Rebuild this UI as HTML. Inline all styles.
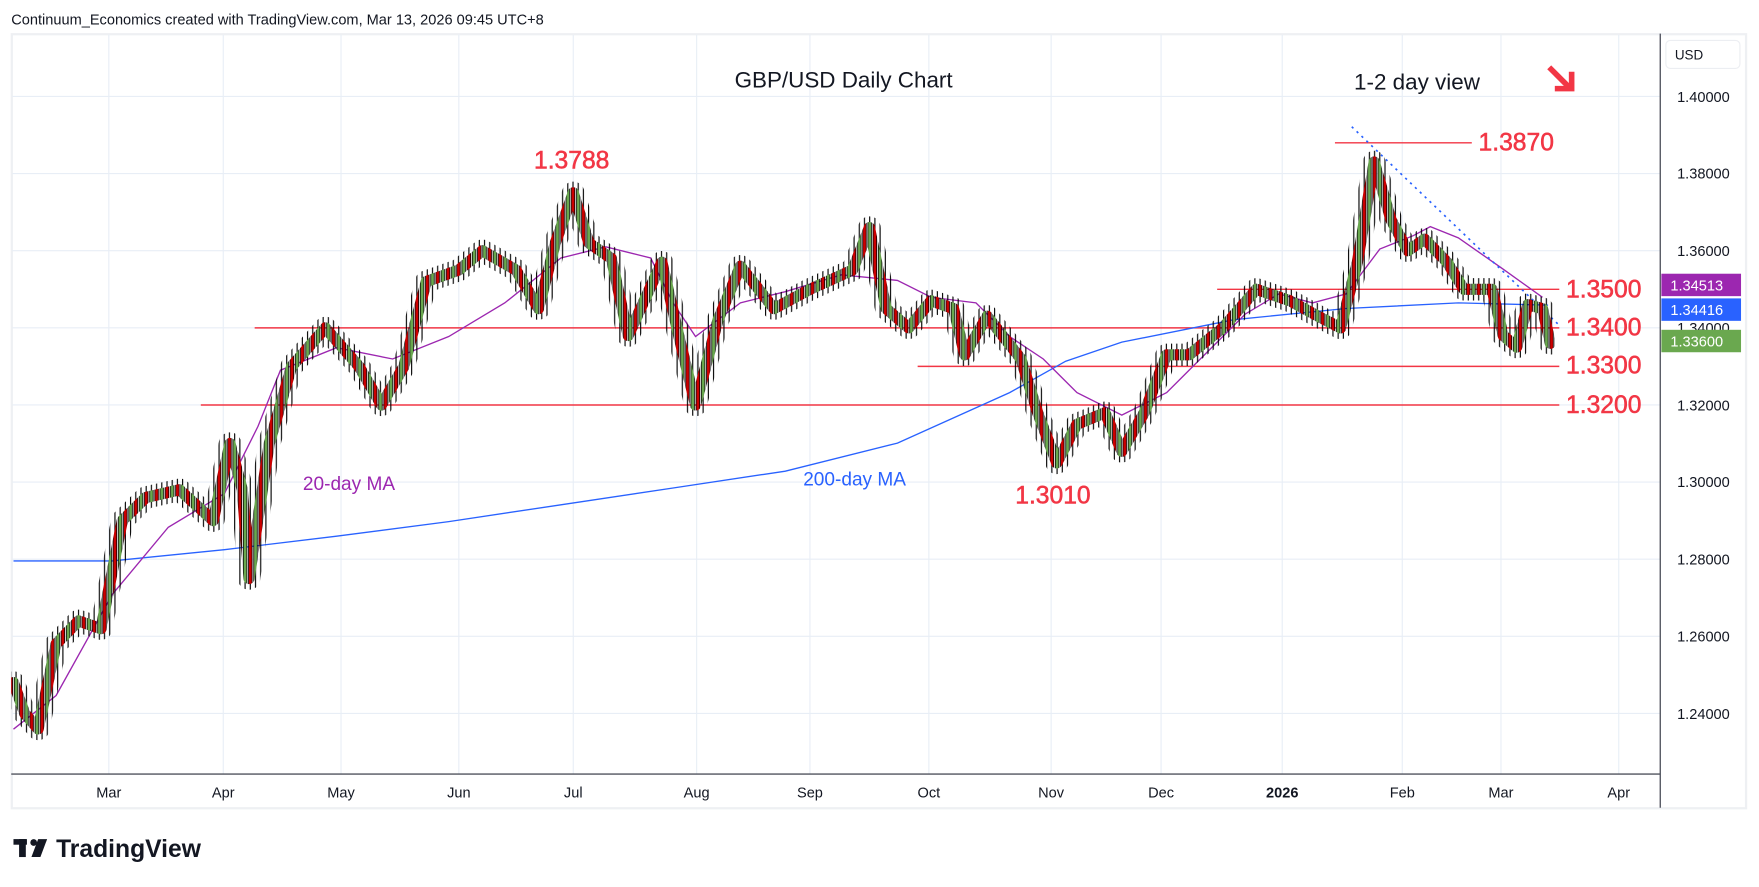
<!DOCTYPE html>
<html><head><meta charset="utf-8"><style>
html,body{margin:0;padding:0;background:#fff;overflow:hidden}
svg{display:block;font-family:"Liberation Sans",sans-serif}
</style></head><body>
<svg width="1759" height="887" viewBox="0 0 1568 790.7" xmlns="http://www.w3.org/2000/svg">
<defs>
<pattern id="pw" patternUnits="userSpaceOnUse" x="12" y="0" width="9.28" height="800">
<rect x="1.8" y="0" width="1" height="800" fill="#000"/><rect x="6.44" y="0" width="1" height="800" fill="#000"/>
</pattern>
<pattern id="pb" patternUnits="userSpaceOnUse" x="12" y="0" width="9.28" height="800">
<rect x="0.7" y="-5" width="3.2" height="810" fill="#6aa84f" stroke="#000" stroke-width="0.7"/>
<rect x="5.34" y="-5" width="3.2" height="810" fill="#cc0000" stroke="#000" stroke-width="0.7"/>
</pattern>
<polyline id="pp" fill="none" stroke-linejoin="round" stroke-linecap="round" points="12,608.5 22,636 34,649.8 50,574.1 70,553.5 90,560.4 109,464.1 130,443.5 160,436.6 190,464.1 205,395.4 216,436.6 222,515.7 240,395.4 260,326.6 290,292.3 320,326.6 340,361 360,326.6 380,251 409,240.7 430,223.5 460,240.7 480,275.1 495,216.6 511,171.9 525,216.6 545,230.4 560,299.1 590,233.8 605,299.1 620,361 640,285.4 660,237.3 690,275.1 722,257.9 760,240.7 775,202.9 790,275.1 810,292.3 830,268.2 850,275.1 860,316.3 880,281.9 910,319.8 925,367.9 942,412.6 960,378.2 985,367.9 1000,402.3 1020,367.9 1040,316.3 1060,316.3 1090,292.3 1120,257.9 1150,268.2 1175,281.9 1195,292.3 1210,233.8 1225,144.4 1240,196 1255,223.5 1270,213.2 1290,233.8 1305,257.9 1330,257.9 1340,299.1 1352,309.4 1362,271.6 1375,275.1 1382,306"/>
<mask id="mw" maskUnits="userSpaceOnUse" x="0" y="0" width="1568" height="791"><use href="#pp" stroke="#fff" stroke-width="20"/></mask>
<mask id="mb" maskUnits="userSpaceOnUse" x="0" y="0" width="1568" height="791"><use href="#pp" stroke="#fff" stroke-width="10"/></mask>
</defs>
<rect width="1568" height="791" fill="#fff"/>
<text x="10" y="22" font-size="13" fill="#131722">Continuum_Economics created with TradingView.com, Mar 13, 2026 09:45 UTC+8</text>
<rect x="10.5" y="30.5" width="1546" height="690" fill="none" stroke="#eef0f3" stroke-width="2"/>
<g stroke="#e8eef6" stroke-width="1">
<line x1="97" y1="31" x2="97" y2="690"/><line x1="199" y1="31" x2="199" y2="690"/><line x1="304" y1="31" x2="304" y2="690"/><line x1="409" y1="31" x2="409" y2="690"/><line x1="511" y1="31" x2="511" y2="690"/><line x1="621" y1="31" x2="621" y2="690"/><line x1="722" y1="31" x2="722" y2="690"/><line x1="828" y1="31" x2="828" y2="690"/><line x1="937" y1="31" x2="937" y2="690"/><line x1="1035" y1="31" x2="1035" y2="690"/><line x1="1143" y1="31" x2="1143" y2="690"/><line x1="1250" y1="31" x2="1250" y2="690"/><line x1="1338" y1="31" x2="1338" y2="690"/><line x1="1443" y1="31" x2="1443" y2="690"/>
<line x1="11" y1="86" x2="1480" y2="86"/><line x1="11" y1="154.75" x2="1480" y2="154.75"/><line x1="11" y1="223.5" x2="1480" y2="223.5"/><line x1="11" y1="292.25" x2="1480" y2="292.25"/><line x1="11" y1="361" x2="1480" y2="361"/><line x1="11" y1="429.75" x2="1480" y2="429.75"/><line x1="11" y1="498.5" x2="1480" y2="498.5"/><line x1="11" y1="567.25" x2="1480" y2="567.25"/><line x1="11" y1="636" x2="1480" y2="636"/>
</g>
<g stroke="#f23645" stroke-width="1.3">
<line x1="1190" y1="127.3" x2="1312" y2="127.3"/><line x1="1085" y1="257.9" x2="1390" y2="257.9"/><line x1="227" y1="292.3" x2="1390" y2="292.3"/><line x1="818" y1="326.6" x2="1390" y2="326.6"/><line x1="179" y1="361" x2="1390" y2="361"/>
</g>
<polyline points="12,500 100,500 200,490 300,478 400,465 500,450 600,435 700,420 800,395 900,350 950,322 1000,305 1100,285 1200,275 1300,270 1380,272" fill="none" stroke="#2962ff" stroke-width="1.2"/>
<polyline points="12,650 50,620 100,530 150,470 200,440 230,380 250,330 300,310 350,320 400,300 450,270 500,230 540,220 580,230 600,270 620,300 660,270 700,260 750,245 800,250 830,265 870,270 900,300 930,320 960,350 1000,370 1040,350 1080,310 1110,280 1140,262 1170,270 1200,262 1230,222 1260,210 1275,202 1300,212 1340,240 1375,265" fill="none" stroke="#9c27b0" stroke-width="1.2"/>
<line x1="1205" y1="113" x2="1390" y2="290" stroke="#2962ff" stroke-width="1.5" stroke-dasharray="2 4"/>
<rect x="10" y="31" width="1376" height="659" fill="url(#pw)" mask="url(#mw)"/>
<rect x="10" y="31" width="1376" height="659" fill="url(#pb)" mask="url(#mb)"/>
<line x1="1480" y1="30" x2="1480" y2="720" stroke="#50535e" stroke-width="1.2"/>
<line x1="10" y1="690" x2="1480" y2="690" stroke="#50535e" stroke-width="1.2"/>
<g font-size="13" fill="#131722" text-anchor="middle">
<text x="97" y="711">Mar</text><text x="199" y="711">Apr</text><text x="304" y="711">May</text><text x="409" y="711">Jun</text><text x="511" y="711">Jul</text><text x="621" y="711">Aug</text><text x="722" y="711">Sep</text><text x="828" y="711">Oct</text><text x="937" y="711">Nov</text><text x="1035" y="711">Dec</text><text x="1143" y="711" font-weight="bold">2026</text><text x="1250" y="711">Feb</text><text x="1338" y="711">Mar</text><text x="1443" y="711">Apr</text>
</g>
<g font-size="13" fill="#131722"><text x="1495" y="91">1.40000</text><text x="1495" y="159">1.38000</text><text x="1495" y="228">1.36000</text><text x="1495" y="297">1.34000</text><text x="1495" y="366">1.32000</text><text x="1495" y="434">1.30000</text><text x="1495" y="503">1.28000</text><text x="1495" y="572">1.26000</text><text x="1495" y="641">1.24000</text></g>
<rect x="1485" y="36" width="66" height="25" rx="4" fill="#fff" stroke="#eceef2"/>
<text x="1493" y="53" font-size="12" fill="#131722">USD</text>
<rect x="1481" y="244" width="71" height="20" fill="#9c27b0"/><text x="1489" y="259" font-size="13" fill="#fff">1.34513</text>
<rect x="1481" y="266" width="71" height="20" fill="#2962ff"/><text x="1489" y="281" font-size="13" fill="#fff">1.34416</text>
<rect x="1481" y="294" width="71" height="20" fill="#6aa84f"/><text x="1489" y="309" font-size="13" fill="#fff">1.33600</text>
<text x="752" y="78" font-size="20" text-anchor="middle" fill="#131722">GBP/USD Daily Chart</text>
<text x="1207" y="80" font-size="20" fill="#131722">1-2 day view</text>
<g stroke="#f23645" stroke-width="5" fill="none"><line x1="1381" y1="60" x2="1399" y2="78"/><polyline points="1386,79 1401,79 1401,64"/></g>
<g font-size="22" fill="#f23645" stroke="#f23645" stroke-width="0.5"><text x="476" y="150">1.3788</text><text x="1318" y="134">1.3870</text><text x="1396" y="265">1.3500</text><text x="1396" y="299">1.3400</text><text x="1396" y="333">1.3300</text><text x="1396" y="368">1.3200</text><text x="905" y="449">1.3010</text></g>
<text x="270" y="437" font-size="17" fill="#9c27b0">20-day MA</text>
<text x="716" y="433" font-size="17" fill="#2962ff">200-day MA</text>
<g transform="translate(12,744)"><rect x="0" y="4" width="12" height="5" fill="#131722"/><rect x="5" y="4" width="6" height="16" fill="#131722"/><circle cx="18" cy="7" r="3" fill="#131722"/><polygon points="22,4 30,4 24,20 16,20" fill="#131722"/>
<text x="38" y="20" font-size="22" font-weight="bold" fill="#131722">TradingView</text></g>
</svg>
</body></html>
